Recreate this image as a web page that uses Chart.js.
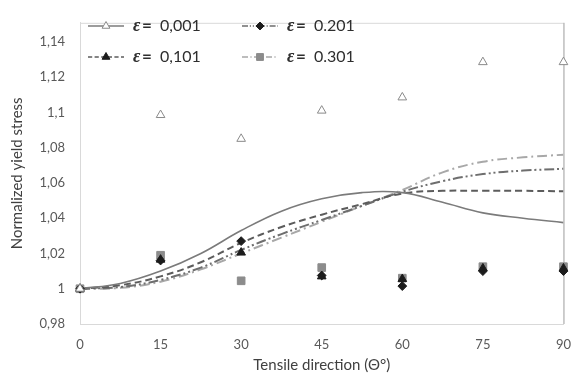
<!DOCTYPE html>
<html>
<head>
<meta charset="utf-8">
<script src="https://cdn.jsdelivr.net/npm/chart.js@4.4.1/dist/chart.umd.min.js"></script>
<style>
  html, body { margin: 0; padding: 0; background: #fff; }
  #wrap { width: 584px; height: 379px; }
</style>
</head>
<body>
<div id="wrap"><canvas id="chart" width="584" height="379"></canvas></div>
<script>
"use strict";

// ── Data ───────────────────────────────────────────────────
// Tensile direction (degrees): model curves are sampled finer than the tests.
const thetaModel = [0, 7.5, 15, 22.5, 30, 37.5, 45, 52.5, 60, 67.5, 75, 82.5, 90];
const thetaExp   = [0, 15, 30, 45, 60, 75, 90];

const strainLabels = ["0,001", "0,101", "0.201", "0.301"];

// Predicted normalized yield stress per strain level
const model001 = [1, 1.003, 1.010, 1.020, 1.033, 1.044, 1.051, 1.0545, 1.0545, 1.049, 1.043, 1.040, 1.0375];
const model101 = [1, 1.002, 1.007, 1.015, 1.026, 1.035, 1.042, 1.048, 1.054, 1.0555, 1.0555, 1.0555, 1.0553];
const model201 = [1, 1.001, 1.005, 1.012, 1.022, 1.031, 1.039, 1.047, 1.055, 1.061, 1.065, 1.067, 1.068];
const model301 = [1, 1.0005, 1.004, 1.011, 1.020, 1.029, 1.038, 1.047, 1.056, 1.066, 1.072, 1.0745, 1.076];

// Measured normalized yield stress per strain level
const exp001 = [1, 1.0985, 1.085, 1.101, 1.1085, 1.1285, 1.1285];
const exp101 = [1, 1.0165, 1.0205, 1.007, 1.0055, 1.0115, 1.0115];
const exp201 = [1, 1.016, 1.027, 1.0075, 1.0015, 1.010, 1.010];
const exp301 = [1, 1.019, 1.0045, 1.012, 1.006, 1.0125, 1.0125];

const yTicks = [0.98, 1, 1.02, 1.04, 1.06, 1.08, 1.1, 1.12, 1.14];
const xTicks = [0, 15, 30, 45, 60, 75, 90];

// ── Helpers ────────────────────────────────────────────────
const pts = (xs, ys) => xs.map((x, i) => ({ x, y: ys[i] }));

/** 1.02 -> "1,02", 1 -> "1", 1.1 -> "1,1" */
function commaNum(v) {
  return String(Math.round(v * 100) / 100).replace(".", ",");
}

function curve(data, color, dash, width) {
  return {
    type: "line",
    data: pts(thetaModel, data),
    borderColor: color,
    borderWidth: width,
    borderDash: dash,
    pointRadius: 0,
    tension: 0.4,
    fill: false,
    order: 1,
  };
}

function markers(data, style, fill, stroke, radius) {
  return {
    type: "scatter",
    data: pts(thetaExp, data),
    pointStyle: style,
    pointRadius: radius,
    pointBackgroundColor: fill,
    pointBorderColor: stroke,
    pointBorderWidth: 1,
    showLine: false,
    clip: false,
    order: 0,
  };
}

const datasets = [
  curve(model001, "#7b7b7b", [], 1.6),
  curve(model101, "#5c5c5c", [7, 4], 2),
  curve(model201, "#6e6e6e", [10, 3, 2, 3, 2, 3], 2),
  curve(model301, "#a8a8a8", [10, 4, 2, 4], 2),
  markers(exp001, "triangle", "#ffffff", "#8a8a8a", 5),
  markers(exp101, "triangle", "#1c1c1c", "#1c1c1c", 5),
  markers(exp201, "rectRot", "#1c1c1c", "#1c1c1c", 4.4),
  markers(exp301, "rect", "#8c8c8c", "#8c8c8c", 5.4),
];

// ── Plugins ────────────────────────────────────────────────
// Light frame on the top edge, darker line on the right edge.
const frame = {
  id: "frame",
  beforeDatasetsDraw(chart) {
    const { ctx, chartArea: a } = chart;
    ctx.save();
    ctx.lineWidth = 1;
    ctx.strokeStyle = "#d9d9d9";
    ctx.beginPath();
    ctx.moveTo(a.left, a.top + 0.5);
    ctx.lineTo(a.right, a.top + 0.5);
    ctx.stroke();
    ctx.strokeStyle = "#9c9c9c";
    ctx.beginPath();
    ctx.moveTo(a.right + 0.5, a.top);
    ctx.lineTo(a.right + 0.5, a.bottom);
    ctx.stroke();
    ctx.restore();
  },
};

// Two-column legend: line sample + marker, then "ε= value".
const legendBox = {
  id: "legendBox",
  afterDatasetsDraw(chart) {
    const { ctx } = chart;
    const slots = [
      { x: 88, y: 26 }, { x: 88, y: 57 },
      { x: 242, y: 26 }, { x: 242, y: 57 },
    ];
    ctx.save();
    strainLabels.forEach((label, i) => {
      const line = chart.data.datasets[i];
      const mk = chart.data.datasets[i + 4];
      const { x, y } = slots[i];

      ctx.strokeStyle = line.borderColor;
      ctx.lineWidth = Math.min(line.borderWidth, 1.6);
      ctx.setLineDash(line.borderDash.map((d) => d * 0.6));
      ctx.beginPath();
      ctx.moveTo(x, y);
      ctx.lineTo(x + 36, y);
      ctx.stroke();
      ctx.setLineDash([]);

      ctx.fillStyle = mk.pointBackgroundColor;
      ctx.strokeStyle = mk.pointBorderColor;
      ctx.lineWidth = 1;
      Chart.helpers.drawPoint(ctx, {
        pointStyle: mk.pointStyle, radius: mk.pointRadius * 0.9,
        rotation: 0, borderWidth: 1,
      }, x + 18, y);

      ctx.fillStyle = "#2e2e2e";
      ctx.textBaseline = "middle";
      ctx.font = "bold italic 18px 'Liberation Serif'";
      ctx.fillText("\u03B5", x + 45, y);
      ctx.font = "bold 17px Lato";
      ctx.fillText("=", x + 54, y);
      ctx.font = "16px Lato";
      ctx.fillText(label, x + 72, y);
    });
    ctx.restore();
  },
};

// ── Chart ──────────────────────────────────────────────────
new Chart(document.getElementById("chart").getContext("2d"), {
  data: { datasets },
  options: {
    responsive: false,
    animation: false,
    layout: { padding: { top: 7, right: 18, bottom: 0, left: 0 } },
    plugins: {
      legend: { display: false },
      tooltip: { enabled: false },
    },
    scales: {
      x: {
        type: "linear",
        min: 0,
        max: 90,
        afterBuildTicks: (s) => { s.ticks = xTicks.map((v) => ({ value: v })); },
        afterFit: (s) => { s.height = 55; },
        grid: { display: false, drawTicks: false },
        border: { display: true, color: "#d9d9d9", width: 1 },
        ticks: { color: "#595959", font: { family: "Lato", size: 13 }, padding: 13, maxRotation: 0 },
        title: {
          display: true,
          text: "Tensile direction (\u0398\u00B0)",
          color: "#404040",
          font: { family: "Lato", size: 15 },
          padding: { top: 0, bottom: 5 },
        },
      },
      y: {
        type: "linear",
        min: 0.98,
        max: 1.1508,
        afterBuildTicks: (s) => { s.ticks = yTicks.map((v) => ({ value: v })); },
        afterFit: (s) => { s.width = 80; },
        grid: { display: false, drawTicks: false },
        border: { display: true, color: "#d9d9d9", width: 1 },
        ticks: { color: "#595959", font: { family: "Lato", size: 13 }, padding: 15, callback: commaNum },
        title: {
          display: true,
          text: "Normalized yield stress",
          color: "#404040",
          font: { family: "Lato", size: 15 },
          padding: { top: 8, bottom: 0 },
        },
      },
    },
  },
  plugins: [frame, legendBox],
});
</script>
</body>
</html>
